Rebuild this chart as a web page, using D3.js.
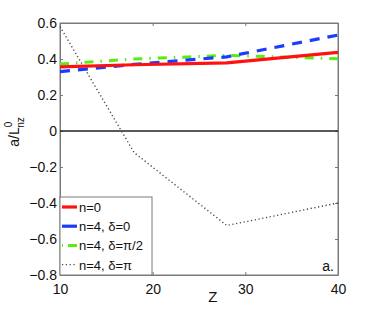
<!DOCTYPE html>
<html lang="en">
<head>
<meta charset="UTF-8">
<title>a/L vs Z</title>
<script src="https://d3js.org/d3.v7.min.js"></script>
<style>
  body { margin: 0; background: #fff; }
  text { font-family: "Liberation Sans", Arial, sans-serif; }
</style>
</head>
<body>
<script type="text/javascript">
    var zValues = [10, 18, 28, 40];
    var n0 = [0.356, 0.368, 0.378, 0.437];
    var n4d0 = [0.330, 0.370, 0.412, 0.533];
    var n4dHalfPi = [0.372, 0.400, 0.420, 0.402];
    var n4dPi = [0.580, -0.120, -0.525, -0.400];
    var seriesNames = ["n=0", "n=4, \u03b4=0", "n=4, \u03b4=\u03c0/2", "n=4, \u03b4=\u03c0"];
    var xTicks = [10, 20, 30, 40];
    var yTicks = [-0.8, -0.6, -0.4, -0.2, 0, 0.2, 0.4, 0.6];

    var svgWidth = 374, svgHeight = 310;
    var plotLeft = 60, plotRight = 338, plotTop = 23, plotBottom = 275;

    var xScale = d3.scaleLinear().domain([10, 40]).range([plotLeft, plotRight]);
    var yScale = d3.scaleLinear().domain([-0.8, 0.6]).range([plotBottom, plotTop]);

    var svg = d3.select("body").append("svg")
        .attr("width", svgWidth)
        .attr("height", svgHeight);

    var fmt = function (d) {
        return d === 0 ? "0" : d3.format(".1f")(d).replace("-", "\u2212");
    };

    // frame
    svg.append("rect")
        .attr("x", plotLeft).attr("y", plotTop)
        .attr("width", plotRight - plotLeft).attr("height", plotBottom - plotTop)
        .attr("fill", "none").attr("stroke", "#7a7a7a").attr("stroke-width", 1);

    // axes with inner ticks
    var xAxis = d3.axisBottom(xScale).tickValues(xTicks).tickSizeInner(-3).tickSizeOuter(0).tickPadding(6);
    var gx = svg.append("g").attr("transform", "translate(0," + plotBottom + ")").call(xAxis);
    var xTop = d3.axisTop(xScale).tickValues(xTicks).tickSizeInner(-3).tickSizeOuter(0).tickFormat("");
    var gxt = svg.append("g").attr("transform", "translate(0," + plotTop + ")").call(xTop);
    var yAxis = d3.axisLeft(yScale).tickValues(yTicks).tickSizeInner(-3).tickSizeOuter(0).tickPadding(3).tickFormat(fmt);
    var gy = svg.append("g").attr("transform", "translate(" + plotLeft + ",0)").call(yAxis);
    var yRight = d3.axisRight(yScale).tickValues(yTicks).tickSizeInner(-3).tickSizeOuter(0).tickFormat("");
    var gyr = svg.append("g").attr("transform", "translate(" + plotRight + ",0)").call(yRight);
    [gx, gxt, gy, gyr].forEach(function (g) {
        g.select(".domain").attr("stroke", "#7a7a7a");
        g.selectAll(".tick line").attr("stroke", "#7a7a7a");
        g.selectAll(".tick text").attr("font-size", 14).attr("fill", "#111")
            .style("font-family", "'Liberation Sans', Arial, sans-serif");
    });
    gx.selectAll(".tick text").attr("dy", "0.9em");

    // zero line
    svg.append("line")
        .attr("x1", xScale(10)).attr("x2", xScale(40))
        .attr("y1", yScale(0)).attr("y2", yScale(0))
        .attr("stroke", "#222").attr("stroke-width", 1.3);

    var series = [
        {values: n4dPi, color: "#444", width: 1.4, dash: "1.2,2.6"},
        {values: n4dHalfPi, color: "#55ee11", width: 3, dash: "9,7,1.5,7"},
        {values: n4d0, color: "#1a3cff", width: 3.2, dash: "10,8"},
        {values: n0, color: "#ff1111", width: 3.2, dash: null}
    ];
    var line = d3.line()
        .x(function (d, i) { return xScale(zValues[i]); })
        .y(function (d) { return yScale(d); });

    svg.selectAll("path.series")
        .data(series)
        .enter()
        .append("path")
        .attr("class", "series")
        .attr("d", function (d) { return line(d.values); })
        .attr("fill", "none")
        .attr("stroke", function (d) { return d.color; })
        .attr("stroke-width", function (d) { return d.width; })
        .attr("stroke-dasharray", function (d) { return d.dash; });

    // legend
    var legend = svg.append("g");
    legend.append("rect")
        .attr("x", 60).attr("y", 197)
        .attr("width", 92).attr("height", 78)
        .attr("fill", "#fff").attr("stroke", "#7a7a7a").attr("stroke-width", 1);
    var legendStyles = series.slice().reverse();
    legendStyles.forEach(function (s, i) {
        var y = 207 + i * 19.2;
        legend.append("line")
            .attr("x1", 62).attr("x2", 77)
            .attr("y1", y).attr("y2", y)
            .attr("stroke", s.color)
            .attr("stroke-width", s.width)
            .attr("stroke-dasharray", i === 2 ? "1,5,9" : (i === 1 ? "15,1" : s.dash));
        legend.append("text")
            .attr("x", 79).attr("y", y + 5)
            .attr("font-size", 13).attr("fill", "#111")
            .text(seriesNames[i]);
    });

    // labels
    svg.append("text")
        .attr("x", xScale(26.5)).attr("y", 302)
        .attr("text-anchor", "middle")
        .attr("font-size", 15).attr("fill", "#111")
        .text("Z");

    var yLabel = svg.append("text")
        .attr("transform", "translate(19,132) rotate(-90)")
        .attr("text-anchor", "middle")
        .attr("font-size", 14).attr("fill", "#111");
    yLabel.append("tspan").text("a/L");
    yLabel.append("tspan").attr("font-size", 10).attr("dy", -7).text("0");
    yLabel.append("tspan").attr("font-size", 10).attr("dx", -6).attr("dy", 12).text("nz");

    svg.append("text")
        .attr("x", 334).attr("y", 271)
        .attr("text-anchor", "end")
        .attr("font-size", 14).attr("fill", "#111")
        .text("a.");
</script>
</body>
</html>
